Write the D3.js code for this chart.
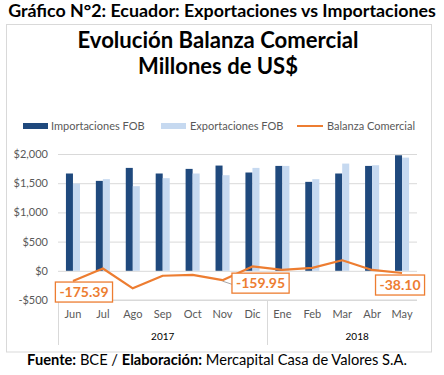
<!DOCTYPE html>
<html>
<head>
<meta charset="utf-8">
<script src="https://cdn.jsdelivr.net/npm/d3@7"></script>
<style>
  body { margin: 0; background: #fff; }
  text { font-family: Lato, "Open Sans", sans-serif; }
</style>
</head>
<body>
<svg id="chart" width="444" height="375"></svg>
<script>
// data (millions of US$)
var months = ['Jun', 'Jul', 'Ago', 'Sep', 'Oct', 'Nov', 'Dic', 'Ene', 'Feb', 'Mar', 'Abr', 'May'];
var years = ['2017', '2017', '2017', '2017', '2017', '2017', '2017', '2018', '2018', '2018', '2018', '2018'];
var importaciones = [1666, 1540, 1762, 1666, 1745, 1802, 1683, 1796, 1523, 1666, 1796, 1978];
var exportaciones = [1495, 1569, 1449, 1586, 1666, 1637, 1762, 1796, 1569, 1836, 1808, 1938];
var balanza = [-175.39, 40, -300, -85, -70, -159.95, 75, 15, 50, 180, 15, -38.10];
var yTicks = [-500, 0, 500, 1000, 1500, 2000];
var labelled = ['Jun', 'Nov', 'May'];

var svg = d3.select('#chart');
var orange = '#ed7d31', dark = '#1f497d', light = '#c6d9f0', grey = '#595959';
var fmt = d3.formatLocale({ decimal: '.', thousands: ',', grouping: [3], currency: ['$', ''], minus: '-' });

function fitText(sel, width) {
  // shrink/grow font so the text spans the wanted width
  var fs = parseFloat(sel.attr('font-size'));
  var w = sel.node().getComputedTextLength();
  sel.attr('font-size', (fs * width / w).toFixed(2));
}

// page heading
svg.append('text')
  .attr('x', 222).attr('y', 17)
  .attr('text-anchor', 'middle')
  .attr('font-size', 16).attr('font-weight', 'bold')
  .attr('fill', '#000')
  .text('Gráfico N°2: Ecuador: Exportaciones vs Importaciones')
  .call(fitText, 428);

// chart frame
svg.append('rect')
  .attr('x', 6.5).attr('y', 24.5)
  .attr('width', 425).attr('height', 327.5)
  .attr('fill', '#fff').attr('stroke', '#d9d9d9');

svg.append('text')
  .attr('x', 218).attr('y', 48)
  .attr('text-anchor', 'middle')
  .attr('font-size', 21).attr('font-weight', 'bold')
  .text('Evolución Balanza Comercial')
  .call(fitText, 281);
svg.append('text')
  .attr('x', 218).attr('y', 74)
  .attr('text-anchor', 'middle')
  .attr('font-size', 21).attr('font-weight', 'bold')
  .text('Millones de US$')
  .call(fitText, 160);

// legend
var legend = svg.append('g').attr('font-size', 11).attr('fill', grey);
legend.append('rect').attr('x', 23).attr('y', 123).attr('width', 25).attr('height', 6).attr('fill', dark);
legend.append('text').attr('x', 51).attr('y', 130).attr('fill', grey).text('Importaciones FOB').call(fitText, 103);
legend.append('rect').attr('x', 161).attr('y', 123).attr('width', 25).attr('height', 6).attr('fill', light);
legend.append('text').attr('x', 190).attr('y', 130).attr('fill', grey).text('Exportaciones FOB').call(fitText, 100);
legend.append('line').attr('x1', 297).attr('x2', 323).attr('y1', 126).attr('y2', 126)
  .attr('stroke', orange).attr('stroke-width', 2);
legend.append('text').attr('x', 327).attr('y', 130).attr('fill', grey).text('Balanza Comercial').call(fitText, 96);

// scales
var x = d3.scaleBand().domain(months).range([58, 417]).padding(0);
var xs = d3.scaleBand().domain(['imp', 'exp']).range([0, x.bandwidth()])
  .paddingInner(0).paddingOuter(1.13);
var y = d3.scaleLinear().domain([-500, 2000]).range([300, 154]);

// gridlines + y axis labels
var yAxis = d3.axisLeft(y).tickValues(yTicks)
  .tickSize(-(x.range()[1] - x.range()[0]))
  .tickPadding(10)
  .tickFormat(fmt.format('$,'));
var gy = svg.append('g').attr('transform', 'translate(58,0)').call(yAxis);
gy.select('.domain').remove();
gy.selectAll('.tick line').attr('stroke', '#d9d9d9');
gy.selectAll('.tick text').attr('fill', grey).attr('font-size', 11).attr('x', -10);

// bars
var rows = months.map(function (m, i) {
  return { m: m, imp: importaciones[i], exp: exportaciones[i], bal: balanza[i], year: years[i] };
});
var groups = svg.append('g').selectAll('g').data(rows).enter().append('g')
  .attr('transform', function (d) { return 'translate(' + x(d.m) + ',0)'; });
groups.append('rect')
  .attr('x', xs('imp')).attr('width', xs.bandwidth())
  .attr('y', function (d) { return y(d.imp); })
  .attr('height', function (d) { return y(0) - y(d.imp); })
  .attr('fill', dark);
groups.append('rect')
  .attr('x', xs('exp')).attr('width', xs.bandwidth())
  .attr('y', function (d) { return y(d.exp); })
  .attr('height', function (d) { return y(0) - y(d.exp); })
  .attr('fill', light);

// category axis (two levels)
var gx = svg.append('g').attr('transform', 'translate(0,' + y(-500) + ')');
gx.append('line').attr('x1', 58).attr('x2', 417).attr('stroke', '#d9d9d9');
gx.selectAll('text.m').data(months).enter().append('text')
  .attr('class', 'm')
  .attr('x', function (d) { return x(d) + x.bandwidth() / 2; })
  .attr('y', 18)
  .attr('text-anchor', 'middle').attr('font-size', 11).attr('fill', grey)
  .text(function (d) { return d; });
var yearNames = Array.from(new Set(years));
var yearSpans = yearNames.map(function (yr, k) {
  var ms = months.filter(function (m, i) { return years[i] === yr; });
  var start = x(ms[0]);
  var end = x(ms[ms.length - 1]) + x.bandwidth();
  if (k === yearNames.length - 1) end += x.bandwidth(); // excel pushes the last group label right
  return { yr: yr, start: start, end: end };
});
gx.selectAll('line.sep').data(yearSpans).enter().append('line')
  .attr('class', 'sep')
  .attr('x1', function (d) { return Math.round(d.start) + 0.5; })
  .attr('x2', function (d) { return Math.round(d.start) + 0.5; })
  .attr('y1', 0).attr('y2', 45)
  .attr('stroke', '#d9d9d9');
gx.selectAll('text.yr').data(yearSpans).enter().append('text')
  .attr('class', 'yr')
  .attr('x', function (d) { return (d.start + d.end) / 2; })
  .attr('y', 40)
  .attr('text-anchor', 'middle').attr('font-size', 10).attr('fill', '#000')
  .text(function (d) { return d.yr; });

// balanza line
var line = d3.line()
  .x(function (d) { return x(d.m) + x.bandwidth() / 2; })
  .y(function (d) { return y(d.bal); });
svg.append('path').datum(rows)
  .attr('d', line)
  .attr('fill', 'none').attr('stroke', orange).attr('stroke-width', 2.2)
  .attr('stroke-linejoin', 'round');

// data labels with boxes
var offsets = { Jun: [11, 11], Nov: [38, 3], May: [-2, 12] };
var lab = svg.append('g').selectAll('g')
  .data(rows.filter(function (d) { return labelled.indexOf(d.m) >= 0; }))
  .enter().append('g')
  .attr('transform', function (d) {
    var o = offsets[d.m];
    return 'translate(' + (x(d.m) + x.bandwidth() / 2 + o[0]) + ',' + (y(d.bal) + o[1]) + ')';
  });
// leader line for Nov
lab.filter(function (d) { return d.m === 'Nov'; }).append('line')
  .attr('x1', -38).attr('y1', -2).attr('x2', -26).attr('y2', 2)
  .attr('stroke', '#a6a6a6');
lab.each(function (d) {
  var g = d3.select(this);
  var t = g.append('text')
    .attr('text-anchor', 'middle').attr('dy', '0.35em')
    .attr('font-size', 14).attr('font-weight', 'bold').attr('fill', orange)
    .text(fmt.format('.2f')(d.bal));
  var bb = t.node().getBBox();
  g.insert('rect', 'text')
    .attr('x', bb.x - 4).attr('y', -10)
    .attr('width', bb.width + 8).attr('height', 20)
    .attr('fill', '#fff').attr('stroke', orange).attr('stroke-width', 1.3);
});

// footer
var foot = svg.append('text')
  .attr('x', 217).attr('y', 365)
  .attr('text-anchor', 'middle')
  .attr('font-size', 12).attr('fill', '#000');
foot.append('tspan').attr('font-weight', 'bold').text('Fuente:');
foot.append('tspan').text(' BCE / ');
foot.append('tspan').attr('font-weight', 'bold').text('Elaboración:');
foot.append('tspan').text(' Mercapital Casa de Valores S.A.');
foot.call(fitText, 380);
</script>
</body>
</html>
